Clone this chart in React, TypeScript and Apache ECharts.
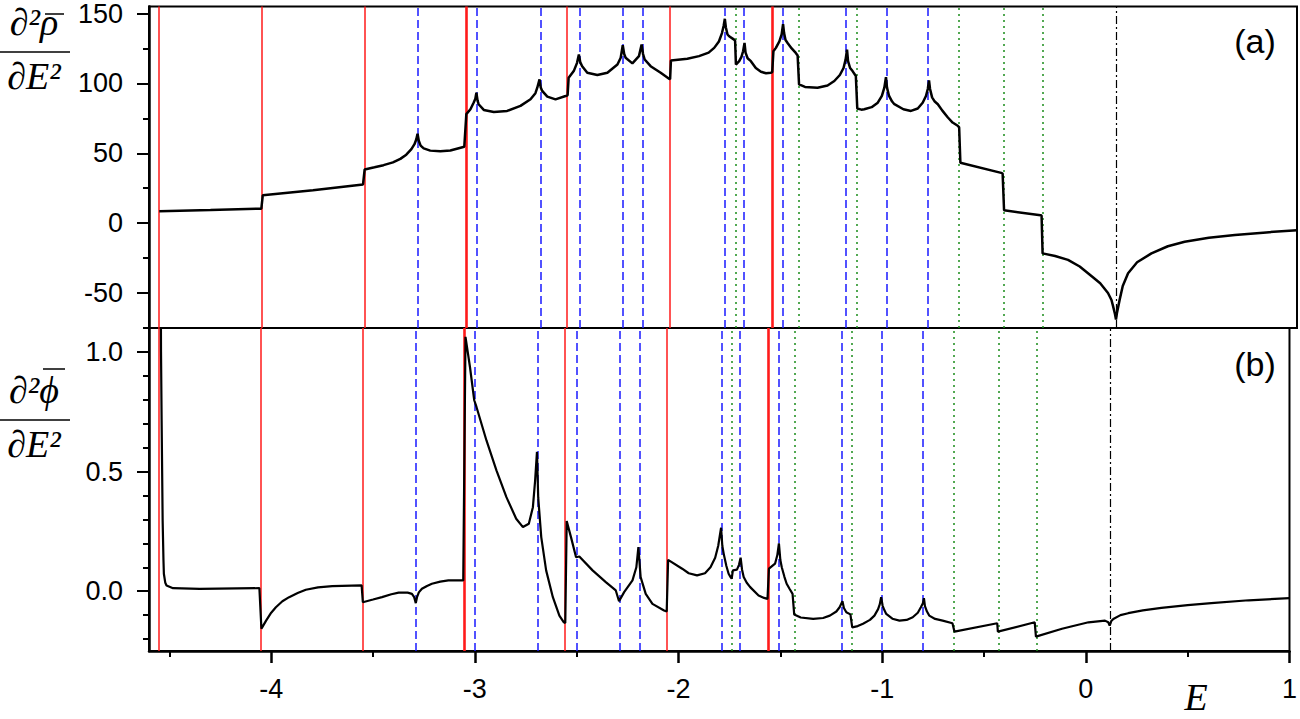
import { useRef, useEffect } from 'react'
import * as echarts from 'echarts'

// energy axis
const ticksX = [-4, -3, -2, -1, 0, 1]
const minorTicksX = [-4.5, -3.5, -2.5, -1.5, -0.5, 0.5]

// panel (a) ticks
const ticksRho = [-50, 0, 50, 100, 150]
const minorTicksRho = [-75, -25, 25, 75, 125]

// panel (b) ticks
const ticksPhi = [0, 0.5, 1.0]
const minorTicksPhi = [-0.2, -0.1, 0.1, 0.2, 0.3, 0.4, 0.6, 0.7, 0.8, 0.9]

// vertical marker positions
const redLines = [-4.552, -4.048, -3.552, -2.555, -2.057]
const redLinesBold = [-3.053, -1.557]
const blueLines = [-3.29, -3.0, -2.695, -2.503, -2.288, -2.195, -1.791, -1.695, -1.507, -1.195, -1.005, -0.795]
const greenLines = [-1.739, -1.431, -1.147, -0.645, -0.432, -0.245]
const blackLines = [0.117]

// panel (a): [E, d2 rho / dE2]
const rhoCurve = [
  [-4.55, 8.5], [-4.3, 9.4], [-4.052, 10.4], [-4.045, 19.9], [-3.8, 23.6], [-3.556, 27.7], [-3.548, 38.4], [-3.5, 40],
  [-3.456, 41.5], [-3.41, 43.5], [-3.374, 46], [-3.345, 49], [-3.32, 53], [-3.305, 56.5], [-3.296, 60], [-3.29, 64],
  [-3.284, 59], [-3.275, 55.5], [-3.26, 53.5], [-3.228, 51.9], [-3.179, 51.4], [-3.13, 52], [-3.062, 54.7], [-3.052, 78],
  [-3.032, 81.5], [-3.016, 86.3], [-3.008, 89], [-3.003, 93.4], [-2.997, 87.5], [-2.992, 85.1], [-2.967, 81], [-2.918, 79.6],
  [-2.853, 80.3], [-2.788, 83.9], [-2.739, 88.6], [-2.715, 93], [-2.706, 96.9], [-2.695, 102.9], [-2.689, 97], [-2.682, 94.6],
  [-2.657, 90.5], [-2.617, 88.6], [-2.568, 91], [-2.558, 91.5], [-2.553, 104], [-2.528, 108.8], [-2.512, 114.7], [-2.503, 120.6],
  [-2.496, 115], [-2.487, 112.3], [-2.462, 107.6], [-2.413, 106], [-2.364, 107.6], [-2.315, 113.5], [-2.299, 118.3], [-2.289, 127.3],
  [-2.282, 121], [-2.275, 118.3], [-2.242, 114.3], [-2.21, 119.5], [-2.197, 127.8], [-2.19, 121], [-2.182, 117.1], [-2.153, 112.3],
  [-2.104, 107.6], [-2.063, 103.3], [-2.058, 103], [-2.054, 116.4], [-1.974, 117.6], [-1.917, 119.5], [-1.87, 122], [-1.843, 125.4],
  [-1.82, 130], [-1.805, 136], [-1.797, 141], [-1.791, 146.2], [-1.786, 140], [-1.778, 135], [-1.77, 133.7], [-1.746, 131.3],
  [-1.741, 130.5], [-1.737, 113.5], [-1.721, 115.9], [-1.71, 119], [-1.702, 123], [-1.695, 128.9], [-1.69, 122], [-1.68, 118],
  [-1.664, 115.9], [-1.64, 111], [-1.615, 108.3], [-1.59, 107.3], [-1.567, 107.6], [-1.56, 108], [-1.554, 123], [-1.542, 125.4],
  [-1.525, 130], [-1.514, 135], [-1.507, 142.4], [-1.502, 136], [-1.495, 131], [-1.485, 128.9], [-1.465, 125], [-1.445, 121.8],
  [-1.436, 120], [-1.429, 99.3], [-1.4, 97.5], [-1.339, 96.9], [-1.29, 98.5], [-1.257, 101.7], [-1.23, 106], [-1.212, 111],
  [-1.202, 117], [-1.195, 124.2], [-1.19, 116], [-1.18, 111], [-1.168, 108.8], [-1.152, 105.3], [-1.145, 82], [-1.125, 81.2],
  [-1.111, 81.5], [-1.075, 83], [-1.045, 86.2], [-1.025, 91], [-1.013, 97], [-1.005, 104.5], [-1.0, 97], [-0.99, 91],
  [-0.975, 87], [-0.964, 85.1], [-0.92, 81.5], [-0.883, 80.3], [-0.85, 82], [-0.826, 86.2], [-0.81, 91], [-0.801, 96],
  [-0.795, 102.2], [-0.79, 96], [-0.78, 90], [-0.767, 87], [-0.752, 85.1], [-0.73, 80.5], [-0.703, 75.6], [-0.68, 72],
  [-0.655, 69.7], [-0.648, 68.5], [-0.642, 43.2], [-0.443, 36], [-0.436, 35.5], [-0.429, 9.2], [-0.251, 5.7], [-0.246, 5.5],
  [-0.241, -21.6], [-0.18, -23.5], [-0.117, -26.3], [-0.06, -31], [0, -38.2], [0.04, -43], [0.078, -50], [0.095, -55],
  [0.103, -59.5], [0.112, -65], [0.117, -69], [0.122, -64], [0.135, -54.7], [0.15, -45], [0.176, -35.8], [0.22, -28],
  [0.29, -21.6], [0.37, -16.5], [0.452, -13.3], [0.57, -10.5], [0.697, -8.5], [0.85, -6.6], [1.0, -5],
]

// panel (b): [E, d2 phi / dE2]
const phiCurve = [
  [-4.545, 2.0], [-4.541, 1.0], [-4.538, 0.714], [-4.533, 0.296], [-4.529, 0.13], [-4.527, 0.073], [-4.52, 0.035], [-4.514, 0.024],
  [-4.482, 0.0126], [-4.351, 0.01], [-4.058, 0.0126], [-4.048, -0.157], [-4.04, -0.145], [-4.025, -0.123], [-4.0, -0.09], [-3.977, -0.067],
  [-3.945, -0.042], [-3.912, -0.025], [-3.87, -0.008], [-3.83, 0.006], [-3.77, 0.016], [-3.7, 0.021], [-3.556, 0.024], [-3.55, -0.046],
  [-3.5, -0.035], [-3.456, -0.025], [-3.41, -0.013], [-3.374, -0.006], [-3.33, -0.006], [-3.309, -0.011], [-3.298, -0.025], [-3.29, -0.05],
  [-3.284, -0.025], [-3.275, -0.005], [-3.26, 0.01], [-3.235, 0.022], [-3.211, 0.031], [-3.17, 0.04], [-3.13, 0.045], [-3.057, 0.045],
  [-3.046, 1.063], [-3.024, 0.937], [-3.003, 0.798], [-2.992, 0.77], [-2.943, 0.63], [-2.894, 0.505], [-2.845, 0.393], [-2.797, 0.303],
  [-2.764, 0.268], [-2.735, 0.282], [-2.715, 0.351], [-2.704, 0.463], [-2.695, 0.582], [-2.689, 0.393], [-2.674, 0.226], [-2.65, 0.087],
  [-2.617, -0.025], [-2.585, -0.102], [-2.563, -0.13], [-2.556, -0.133], [-2.549, 0.293], [-2.528, 0.226], [-2.503, 0.142], [-2.487, 0.145],
  [-2.422, 0.087], [-2.357, 0.038], [-2.308, 0.003], [-2.292, -0.042], [-2.267, -0.004], [-2.226, 0.045], [-2.207, 0.1], [-2.197, 0.184],
  [-2.186, 0.059], [-2.161, -0.011], [-2.128, -0.053], [-2.071, -0.081], [-2.058, -0.085], [-2.051, 0.131], [-1.982, 0.094], [-1.95, 0.075],
  [-1.909, 0.066], [-1.87, 0.075], [-1.843, 0.1], [-1.82, 0.14], [-1.805, 0.19], [-1.791, 0.265], [-1.785, 0.19], [-1.778, 0.156],
  [-1.765, 0.105], [-1.754, 0.073], [-1.745, 0.06], [-1.739, 0.052], [-1.733, 0.087], [-1.713, 0.09], [-1.703, 0.11], [-1.695, 0.14],
  [-1.688, 0.09], [-1.68, 0.059], [-1.665, 0.035], [-1.648, 0.017], [-1.607, -0.018], [-1.58, -0.028], [-1.563, -0.032], [-1.556, 0.094],
  [-1.526, 0.115], [-1.515, 0.15], [-1.507, 0.2], [-1.5, 0.13], [-1.493, 0.1], [-1.48, 0.06], [-1.469, 0.031], [-1.455, 0.01],
  [-1.44, -0.011], [-1.432, -0.097], [-1.4, -0.11], [-1.339, -0.116], [-1.29, -0.112], [-1.257, -0.102], [-1.225, -0.085], [-1.209, -0.067],
  [-1.195, -0.042], [-1.188, -0.07], [-1.176, -0.088], [-1.156, -0.097], [-1.147, -0.151], [-1.12, -0.146], [-1.094, -0.136], [-1.06, -0.12],
  [-1.038, -0.102], [-1.02, -0.075], [-1.012, -0.055], [-1.005, -0.025], [-0.998, -0.06], [-0.99, -0.078], [-0.98, -0.095], [-0.95, -0.115],
  [-0.915, -0.123], [-0.88, -0.12], [-0.85, -0.109], [-0.825, -0.09], [-0.81, -0.067], [-0.8, -0.05], [-0.795, -0.029], [-0.79, -0.062],
  [-0.78, -0.085], [-0.769, -0.102], [-0.74, -0.116], [-0.703, -0.123], [-0.655, -0.134], [-0.645, -0.169], [-0.435, -0.134], [-0.432, -0.169],
  [-0.251, -0.13], [-0.245, -0.19], [-0.117, -0.157], [0.013, -0.13], [0.094, -0.123], [0.11, -0.13], [0.117, -0.144], [0.125, -0.125],
  [0.135, -0.116], [0.17, -0.1], [0.208, -0.092], [0.28, -0.08], [0.371, -0.07], [0.5, -0.058], [0.616, -0.05], [0.8, -0.038], [1.0, -0.029],
]

const sansFont = "'Liberation Sans', Arial, sans-serif"
const serifFont = "'Liberation Serif', 'DejaVu Serif', serif"

function vlines() {
  const red = { color: '#ff1a1a', type: 'solid', width: 1.5 }
  const redBold = { color: '#ff1a1a', type: 'solid', width: 2.6 }
  const blue = { color: '#1a1aff', type: [8, 4], width: 1.5 }
  const green = { color: '#1a8c1a', type: [2, 4], width: 1.5 }
  const black = { color: '#000', type: [8, 3, 2, 3], width: 1.2 }
  return [
    ...redLines.map(v => ({ xAxis: v, lineStyle: red })),
    ...redLinesBold.map(v => ({ xAxis: v, lineStyle: redBold })),
    ...blueLines.map(v => ({ xAxis: v, lineStyle: blue })),
    ...greenLines.map(v => ({ xAxis: v, lineStyle: green })),
    ...blackLines.map(v => ({ xAxis: v, lineStyle: black })),
  ]
}

function frac(numer: string, y0: number, overY: number, overX: number, overW: number) {
  // numerator / bar / denominator of the left axis title
  return [
    { type: 'text', style: { text: numer, x: 34, y: y0, font: `italic 38px ${serifFont}`, fill: '#000', align: 'center', verticalAlign: 'middle' } },
    { type: 'line', shape: { x1: overX, y1: overY, x2: overX + overW, y2: overY }, style: { stroke: '#000', lineWidth: 1.5 } },
    { type: 'line', shape: { x1: 0, y1: y0 + 30, x2: 70, y2: y0 + 30 }, style: { stroke: '#000', lineWidth: 1.5 } },
    { type: 'text', style: { text: '∂E²', x: 34, y: y0 + 54, font: `italic 38px ${serifFont}`, fill: '#000', align: 'center', verticalAlign: 'middle' } },
  ]
}

export default function App() {
  const containerRef = useRef<HTMLDivElement>(null)

  useEffect(() => {
    const el = containerRef.current
    if (!el) return
    const chart = echarts.init(el, null, { renderer: 'svg' })

    const baseX = { type: 'value', min: -4.6, max: 1, position: 'bottom', splitLine: { show: false } }
    const baseY = { type: 'value', position: 'left', splitLine: { show: false } }
    const tickLabel = { color: '#000', fontSize: 27, fontFamily: sansFont, margin: 26 }
    const mainLine = { show: true, onZero: false, lineStyle: { color: '#000', width: 2.5 } }
    const noLine = { show: false, onZero: false }

    const option: echarts.EChartsOption = {
      animation: false,
      backgroundColor: '#fff',
      grid: [
        { left: 149, top: 5, width: 1148, height: 323, show: true, borderColor: '#000', borderWidth: 2, containLabel: false },
        { left: 149, top: 328, width: 1148, height: 323, show: true, borderColor: '#000', borderWidth: 2, containLabel: false },
      ],
      xAxis: [
        { ...baseX, gridIndex: 0, show: false, axisLine: noLine },
        {
          ...baseX, gridIndex: 1,
          axisLine: mainLine,
          axisTick: { show: true, length: 12, lineStyle: { color: '#000', width: 2.5 }, customValues: ticksX },
          axisLabel: { ...tickLabel, margin: 24, customValues: ticksX, formatter: (v: number) => String(v) },
        },
        {
          ...baseX, gridIndex: 1,
          axisLine: noLine,
          axisTick: { show: true, length: 6, lineStyle: { color: '#000', width: 2 }, customValues: minorTicksX },
          axisLabel: { show: false },
        },
      ],
      yAxis: [
        {
          ...baseY, gridIndex: 0, min: -75, max: 155,
          axisLine: mainLine,
          axisTick: { show: true, length: 12, lineStyle: { color: '#000', width: 2 }, customValues: ticksRho },
          axisLabel: { ...tickLabel, customValues: ticksRho, formatter: (v: number) => String(v) },
        },
        {
          ...baseY, gridIndex: 0, min: -75, max: 155,
          axisLine: noLine,
          axisTick: { show: true, length: 6, lineStyle: { color: '#000', width: 2 }, customValues: minorTicksRho },
          axisLabel: { show: false },
        },
        {
          ...baseY, gridIndex: 1, min: -0.25, max: 1.1,
          axisLine: mainLine,
          axisTick: { show: true, length: 12, lineStyle: { color: '#000', width: 2 }, customValues: ticksPhi },
          axisLabel: { ...tickLabel, customValues: ticksPhi, formatter: (v: number) => v.toFixed(1) },
        },
        {
          ...baseY, gridIndex: 1, min: -0.25, max: 1.1,
          axisLine: noLine,
          axisTick: { show: true, length: 6, lineStyle: { color: '#000', width: 2 }, customValues: minorTicksPhi },
          axisLabel: { show: false },
        },
      ],
      series: [
        {
          type: 'line', xAxisIndex: 0, yAxisIndex: 0,
          data: rhoCurve,
          symbol: 'none', smooth: false, clip: true,
          lineStyle: { color: '#000', width: 2.5 },
          markLine: { z: 1, silent: true, symbol: ['none', 'none'], label: { show: false }, data: vlines() as any },
        },
        {
          type: 'line', xAxisIndex: 1, yAxisIndex: 2,
          data: phiCurve,
          symbol: 'none', smooth: false, clip: true,
          lineStyle: { color: '#000', width: 2.2 },
          markLine: { z: 1, silent: true, symbol: ['none', 'none'], label: { show: false }, data: vlines() as any },
        },
      ],
      graphic: [
        ...frac('∂²ρ', 22, 14, 45, 19),
        ...frac('∂²ϕ', 390, 369, 43, 22),
        { type: 'text', style: { text: '(a)', x: 1255, y: 41, font: `34px ${sansFont}`, fill: '#000', align: 'center', verticalAlign: 'middle' } },
        { type: 'text', style: { text: '(b)', x: 1255, y: 364, font: `34px ${sansFont}`, fill: '#000', align: 'center', verticalAlign: 'middle' } },
        { type: 'text', style: { text: 'E', x: 1196, y: 697, font: `italic 38px ${serifFont}`, fill: '#000', align: 'center', verticalAlign: 'middle' } },
      ] as any,
    }
    chart.setOption(option, true)

    return () => {
      chart.dispose()
    }
  }, [])

  return (
    <div
      ref={containerRef}
      style={{ position: 'absolute', left: 0, top: 0, width: 1300, height: 719 }}
    />
  )
}
